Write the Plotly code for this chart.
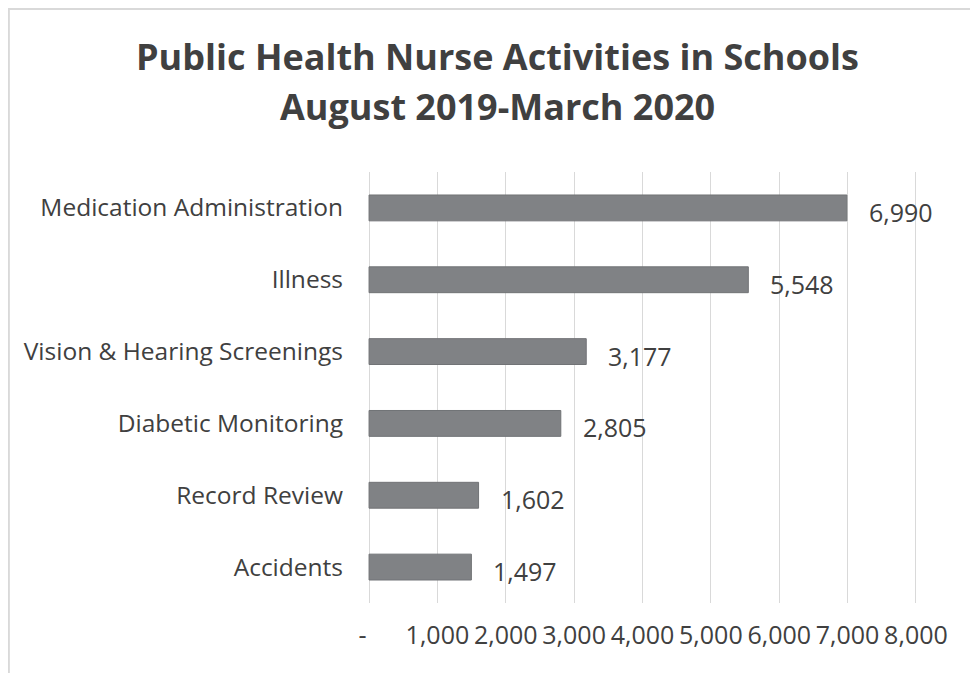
import plotly.graph_objects as go

categories = ["Medication Administration", "Illness", "Vision & Hearing Screenings",
              "Diabetic Monitoring", "Record Review", "Accidents"]
values = [6990, 5548, 3177, 2805, 1602, 1497]
tick_vals = [0, 1000, 2000, 3000, 4000, 5000, 6000, 7000, 8000]
tick_text = ["-  ", "1,000", "2,000", "3,000", "4,000", "5,000", "6,000", "7,000", "8,000"]
title_lines = ["Public Health Nurse Activities in Schools", "August 2019-March 2020"]

FONT = "Open Sans"
TXT = "#404040"
fig = go.Figure()
fig.add_trace(go.Bar(
    y=categories, x=values, orientation="h",
    marker=dict(color="#808285", line=dict(color="#717376", width=1)),
    width=0.36, hoverinfo="x+y",
))
for c, v in zip(categories, values):
    fig.add_annotation(x=v, y=c, text=f"{v:,}", showarrow=False, xanchor="left",
                       xshift=20, yshift=-4, font=dict(family=FONT, size=25, color=TXT))

# title as two lines placed in paper space (page body has an 8px margin)
for i, line in enumerate(title_lines):
    fig.add_annotation(xref="paper", yref="paper", x=0.237, y=1.268 - i * 0.117,
                       text=f"<b>{line}</b>", showarrow=False, xanchor="center",
                       yanchor="middle", font=dict(family=FONT, size=36, color=TXT))

fig.update_layout(
    width=970, height=665,
    margin=dict(l=359, r=60, t=164, b=70),
    paper_bgcolor="white", plot_bgcolor="white",
    showlegend=False,
    xaxis=dict(range=[-30, 8030], tickvals=tick_vals, ticktext=tick_text,
               showgrid=True, gridcolor="#d9d9d9", gridwidth=1.2, zeroline=False,
               showline=False, ticks="", ticklabelstandoff=15,
               tickfont=dict(family=FONT, size=25, color=TXT)),
    yaxis=dict(autorange="reversed", showgrid=False, zeroline=False, showline=False,
               ticks="", ticklabelstandoff=23,
               tickfont=dict(family=FONT, size=24.5, color=TXT)),
)
fig.add_shape(type="rect", xref="x domain", yref="y domain", x0=-0.65, x1=1.2,
              y0=-0.3, y1=1.378, line=dict(color="#d9d9d9", width=2), layer="below")
fig.write_html("out.html")
